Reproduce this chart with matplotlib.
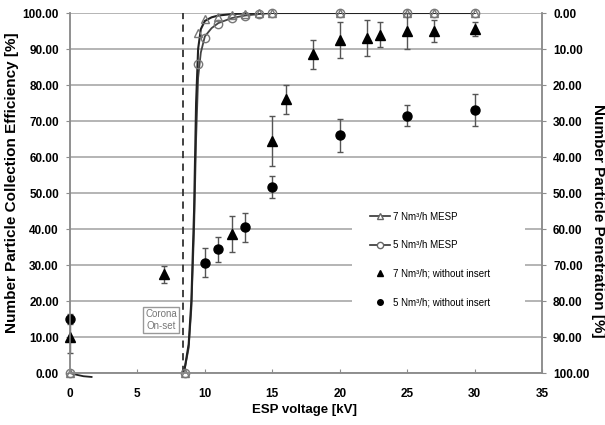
import matplotlib
matplotlib.use("Agg")
import matplotlib.pyplot as plt
from matplotlib.lines import Line2D
from matplotlib.patches import Rectangle

plt.rcParams['font.family'] = ['Liberation Sans', 'DejaVu Sans']

# MESP series (open markers)
mesp7_x = [0, 8.5, 9.5, 10, 11, 12, 13, 14, 15, 20, 25, 27, 30]
mesp7_y = [0, 0, 94.4, 98.3, 98.9, 99.5, 99.8, 100, 100, 100, 100, 100, 100]
mesp5_x = [0, 8.5, 9.5, 10, 11, 12, 13, 14, 15, 20, 25, 27, 30]
mesp5_y = [0, 0, 85.8, 93, 97, 98.6, 99.3, 99.7, 100, 100, 100, 100, 100]

# smoothed lines through the MESP points
curve7_x = [8.45, 8.8, 9.0, 9.2, 9.35, 9.5, 9.7, 10.0, 10.5, 11, 12, 13, 14, 15, 20, 25, 30]
curve7_y = [0, 8, 20, 45, 75, 90, 95.5, 97.8, 98.8, 99.3, 99.7, 99.9, 100, 100, 100, 100, 100]
curve5_x = [8.45, 8.8, 9.0, 9.2, 9.35, 9.5, 9.7, 10.0, 10.5, 11, 12, 13, 14, 15, 20, 25, 30]
curve5_y = [0, 7, 18, 40, 65, 82, 89, 93.5, 95.8, 97.2, 98.6, 99.3, 99.7, 100, 100, 100, 100]
dip_x = [0, 0.5, 1.0, 1.6]
dip_y = [0, -0.5, -0.9, -1.1]

# without insert (filled markers, with error bars)
wo7_x = [0, 7, 12, 15, 16, 18, 20, 22, 23, 25, 27, 30]
wo7_y = [10, 27.4, 38.5, 64.5, 76, 88.5, 92.5, 93, 94, 95, 95, 95.5]
wo7_err = [4.5, 2.4, 5, 7, 4, 4, 5, 5, 3.5, 5, 3, 2]
wo5_x = [0, 10, 11, 13, 15, 20, 25, 30]
wo5_y = [15, 30.6, 34.4, 40.5, 51.7, 66, 71.5, 73]
wo5_err = [1.5, 4, 3.5, 4, 3, 4.5, 3, 4.5]

onset_x = 8.4

yticks = list(range(0, 101, 10))
xticks = list(range(0, 36, 5))

W, H = 605, 425
fig = plt.figure(figsize=(6.05, 4.25), dpi=100)
ax = fig.add_axes([70 / W, 52 / H, 472 / W, 360 / H])

grey = '#8c8c8c'
for t in yticks:
    ax.axhline(t, color='#a0a0a0', lw=1.1, zorder=0)
# white area behind the legend hides the grid lines
ax.add_patch(Rectangle((0.597, 0.147), 0.367, 0.333, transform=ax.transAxes,
                       fc='white', ec='none', zorder=0.5))

ax.axvline(onset_x, ymin=0, ymax=1, color='#333333', lw=1.3, ls=(0, (4, 3)), zorder=1)

ax.plot(curve5_x, curve5_y, color='#444444', lw=1.3, zorder=2)
ax.plot(curve7_x, curve7_y, color='#222222', lw=1.5, zorder=2)
ax.plot(dip_x, dip_y, color='#222222', lw=1.3, clip_on=False, zorder=2)

ax.plot(mesp7_x, mesp7_y, ls='none', marker='^', ms=6, mfc='none', mec='#777777',
        mew=1, clip_on=False, zorder=3)
ax.plot(mesp5_x, mesp5_y, ls='none', marker='o', ms=6, mfc='none', mec='#777777',
        mew=1, clip_on=False, zorder=3)

ax.errorbar(wo7_x, wo7_y, yerr=wo7_err, fmt='^', ms=6.5, color='black', ecolor='#555555',
            elinewidth=1, capsize=2.5, capthick=1, clip_on=False, zorder=4)
ax.errorbar(wo5_x, wo5_y, yerr=wo5_err, fmt='o', ms=6.5, color='black', ecolor='#555555',
            elinewidth=1, capsize=2.5, capthick=1, clip_on=False, zorder=4)

ax.text(6.75, 14.7, 'Corona\nOn-set', fontsize=7, color='#777777', ha='center', va='center',
        linespacing=1.2,
        bbox=dict(boxstyle='square,pad=0.2', fc='white', ec='#999999', lw=1))

ax.set_xlim(0, 35)
ax.set_ylim(0, 100)
ax.set_xticks(xticks)
ax.set_yticks(yticks)
ax.set_yticklabels(['%.2f' % t for t in yticks])
ax.tick_params(axis='x', direction='in', length=3, color=grey, labelsize=8.5, pad=11)
ax.tick_params(axis='y', direction='out', length=3, color=grey, labelsize=8.5, pad=5)
for lab in ax.get_xticklabels() + ax.get_yticklabels():
    lab.set_fontweight('bold')
ax.spines['top'].set_visible(False)
for s in ['left', 'bottom', 'right']:
    ax.spines[s].set_color(grey)
    ax.spines[s].set_linewidth(1.1)

ax2 = ax.twinx()
ax2.set_ylim(100, 0)
ax2.set_yticks(yticks)
ax2.set_yticklabels(['%.2f' % t for t in yticks])
ax2.tick_params(axis='y', direction='out', length=3, color=grey, labelsize=8.5, pad=5)
for lab in ax2.get_yticklabels():
    lab.set_fontweight('bold')
ax2.spines['top'].set_visible(False)
for s in ['left', 'bottom', 'right']:
    ax2.spines[s].set_color(grey)
    ax2.spines[s].set_linewidth(1.1)

fig.text(12 / W, 1 - 183 / H, 'Number Particle Collection Efficiency [%]', fontsize=11,
         fontweight='bold', rotation=90, ha='center', va='center')
fig.text(598 / W, 1 - 221 / H, 'Number Particle Penetration [%]', fontsize=11,
         fontweight='bold', rotation=270, ha='center', va='center')
fig.text(305 / W, 1 - 410 / H, 'ESP voltage [kV]', fontsize=9.5,
         fontweight='bold', ha='center', va='center')

handles = [
    Line2D([], [], color='#333333', lw=1.2, marker='^', ms=5, mfc='white', mec='#666666'),
    Line2D([], [], color='#333333', lw=1.2, marker='o', ms=4.5, mfc='white', mec='#666666'),
    Line2D([], [], ls='none', marker='^', ms=4.5, color='black'),
    Line2D([], [], ls='none', marker='o', ms=4, color='black'),
]
labels = ['7 Nm³/h MESP', '5 Nm³/h MESP', '7 Nm³/h; without insert', '5 Nm³/h; without insert']
leg = ax2.legend(handles, labels, loc='upper left', bbox_to_anchor=(0.636, 0.448),
                 frameon=False, fontsize=7, handlelength=2.06, handletextpad=0.3,
                 labelspacing=1.9, borderpad=0, borderaxespad=0)

fig.savefig('out.png', dpi=100)
